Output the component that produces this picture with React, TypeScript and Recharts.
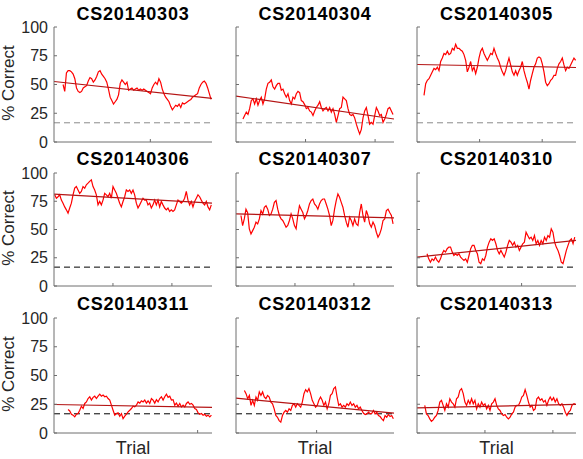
import React from 'react';
import { LineChart, Line, XAxis, YAxis, ReferenceLine } from 'recharts';

// Session names, one panel per session (row-major order)
const sessions = [
  'CS20140303', 'CS20140304', 'CS20140305',
  'CS20140306', 'CS20140307', 'CS20140310',
  'CS20140311', 'CS20140312', 'CS20140313',
];

// Total trials in each session (x-axis extent)
const trialCounts = [820, 1136, 1270, 1340, 1340, 760, 550, 980, 1170];
// Trial at which the running accuracy starts / ends
const firstTrial = [47, 50, 56, 6, 42, 48, 49, 52, 57];
const lastTrial = [815, 1129, 1267, 1334, 1332, 754, 548, 976, 1165];

// Linear fit of accuracy: value at trial 0 and at the last trial
const trendStart = [52.6, 39.9, 67.4, 81.3, 63.8, 25.6, 24.8, 30.3, 21.9];
const trendEnd = [38, 20, 64.8, 73.3, 60.3, 40.3, 22.2, 17.2, 24.9];

// Chance level for a six-choice task (% correct)
const chanceLevel = 16.7;

const yTicks = [0, 25, 50, 75, 100];
const xTicks = [500, 1000];

// Running % correct, evenly spaced between firstTrial and lastTrial
const acc0303 = [50,44,60,62,62,61,59,55,47,44,43,44,47,48,49,53,56,55,52,54,57,61,62,59,57,55,52,46,39,36,33,35,37,41,51,54,52,50,52,45,46,47,45,46,47,45,46,45,46,45,44,43,42,47,50,52,50,55,52,46,42,39,37,35,31,28,30,32,31,33,30,34,33,34,35,36,37,39,40,41,42,47,50,52,53,51,47,42,37];
const acc0304 = [20,23,26,24,29,36,37.5,33,37.5,32,36,39,33,37.5,46,51,52,54,48,46,49,51,51,45,46,42,39,42,36,33,39,37.5,42,44,43,36,35,32.5,29,30,27,26,23,27,30,32,35,30,27,29,30,27,30,26,29,24,17,23,29,30,39,37.5,36,29,24,23,24,21,15.5,11,7,11,21,27,30,23,15.5,17,15.5,23,30,27,23,24,17,20,24,29,30,27,24];
const acc0305 = [40.5,50.7,53.7,55,58,61,64,63,65,62,70,73,77,76,79,76,77,81.5,80,85,81.5,81.5,80,79,76,71,61,65,70,62,65,59.5,65,73,79,81.5,77,74,71,74,77,76,81.5,77,73,70,65,61,58,62,68,73,67,61,58,62,58,62,65,70,62,56.6,52,46,53.7,59.5,65,68,73,74,73,68,61,52,49,50.7,53.7,55,58,58,64,68,70,73,67,62,65,64,67,70,73,71];
const acc0306 = [80.7,77.7,79,80.7,76,73.3,70,67.4,64.4,69,73.3,80.7,86.6,88,85,82,83.7,88,86.6,89.6,91,92.6,94,88,85,80.7,71.8,74.8,71.8,76,82,80.7,79,82,77.7,88,85,82,77.7,73.3,70,74.8,79,85,83.7,85,82,85,80.7,73.3,69,71.8,74.8,77.7,76,76,71.8,73.3,69,71.8,76,71.8,76,70,74.8,71.8,69,67.4,69,66,67.4,66,67.4,71.8,76,74.8,73.3,74.8,77.7,83.7,76,71.8,74.8,70,74.8,77.7,80.7,79,76,73.3,71.8,74.8,70,67.4,71.8];
const acc0307 = [62.4,53.5,59.4,68,65,50.6,46,49,52,56.5,55,59.4,66.8,63.8,69.7,71,68,62.4,63.8,68,74,75.6,68,62.4,59.4,58,55,52,53.5,58,63.8,59.4,53.5,50.6,62.4,71,68,65,59.4,62.4,66.8,72.6,75.6,77,72.6,71,68,72.6,75.6,77,77,72.6,68,62.4,53.5,58,68,75.6,81.5,78.5,74,69.7,62.4,56.5,52,60.9,58,53.5,59.4,55,53.5,65,72.6,62.4,56.5,66.8,62.4,55,52,56.5,53.5,47.6,43.2,46,50.6,58,59.4,66.8,68,65,62.4,55];
const acc0310 = [28.5,24,21,24,22.6,25.6,22.6,21,24,28.5,31.5,30,33,34.4,34.4,30,27,28.5,27,28.5,25.6,24,22.6,24,21,27,33,36,36,31.5,28.5,21,19.7,24,22.6,27,34.4,38.8,41.8,40.3,41.8,37.4,31.5,28.5,31.5,28.5,25.6,30,36,40.3,38.8,36,38.8,34.4,36,31.5,34.4,37.4,38.8,47.6,44.7,41.8,43.2,40.3,44.7,37.4,40.3,36,40.3,37.4,43.2,40.3,44.7,43.2,50.6,47.6,38.8,34.4,31.5,27,21,19.7,25.6,31.5,36,40.3,41.8,37.4,43.2];
const acc0311 = [20.4,19.2,16.3,15.5,14,16.3,16.9,19.8,23.3,21.3,25.7,27,30,31.5,28.6,31,32,30,32,33.8,32,33,31.5,32,30,28.6,24.2,19.8,15.5,16.9,17.5,14.6,16.9,12.5,14.6,16.3,18.4,19.8,21.3,23.3,22.7,24.2,27,26,28,27,28.6,26,28,25.7,30,28.6,26,29,27,30,31.5,28.6,31.5,33.8,31,32,28.6,29,24.2,26,23.3,25.7,22.7,24.2,22.7,25.7,27,25,25.7,24.2,21.3,20.4,17.5,16.3,16.9,15.5,16.3,14.6,15.5,14,15.5];
const acc0312 = [37,34.2,29.8,32.7,24,28.4,24,31.3,28.4,35.7,32.7,35.7,31.3,29.8,32.7,31.3,26.9,25.4,21,15.2,13.7,10.8,9.4,15.2,18.1,19.6,18.1,21,19.6,24,25.4,22.5,25.4,24,22.5,26.9,34.2,37.7,35.7,38.6,34.2,28.4,25.4,22.5,24,28.4,31.3,28.4,24,26.9,21,25.4,32.7,34.2,38.6,40,31.3,24,25.4,22.5,24,22.5,25.4,24,26.9,24,25.4,22.5,24,21,22.5,19.6,17.2,16.1,16.6,18.1,16.6,17.2,19.6,16.6,18.1,15.2,14.3,12.3,10.8,15.2,13.7,16.1,14.3,15.2,12.3];
const acc0313 = [24,16.6,15.2,12.3,10.2,11.4,13.7,15.2,19.6,26.9,28.4,24,19.6,25.4,22.5,29.8,26.9,25.4,22.5,29.8,31.3,37,38.6,34.2,26.9,24,28.4,25.4,29.8,25.4,28.4,21,25.4,22.5,26.9,24,25.4,21,24,19.6,25.4,26.9,29.8,24,21,19.6,16.6,15.2,16.1,13.7,12.3,13.7,16.6,18.1,22.5,24,24,26.9,31.3,32.7,37.7,32.7,26.9,22.5,24,19.6,21,29.8,31.3,28.4,29.8,26.9,28.4,24,28.4,31.3,28.4,30.7,26.9,29.8,25.4,24,25.4,22.5,18.1,15.2,18.1,19.6,24,25.4,25.4];

const accuracy = [acc0303, acc0304, acc0305, acc0306, acc0307, acc0310, acc0311, acc0312, acc0313];

// Layout of the 3x3 grid of plot areas (pixels)
const colLeft = [54, 236, 417];
const colWidth = [158, 158, 159];
const rowTop = [27, 173, 318];
const rowHeight = [115, 113, 115];
const titleBaseline = [20, 165, 310];

const FONT = '"Liberation Sans", Arial, Helvetica, sans-serif';
const AXIS_GRAY = '#6e6e6e';
const TEXT_DARK = '#262626';
const Y_AXIS_W = 50;
const PAD = 12;

function toSeries(values: number[], start: number, end: number) {
  const step = (end - start) / (values.length - 1);
  return values.map((v, i) => ({ t: start + i * step, v }));
}

function Panel({ index }: { index: number }) {
  const row = Math.floor(index / 3);
  const col = index % 3;
  const n = trialCounts[index];
  const data = toSeries(accuracy[index], firstTrial[index], lastTrial[index]);
  const w = colWidth[col];
  const h = rowHeight[row];
  const chanceColor = row === 0 ? '#8a8a8a' : '#000000';

  return (
    <div
      style={{
        position: 'absolute',
        left: colLeft[col] - Y_AXIS_W,
        top: rowTop[row] - PAD,
      }}
    >
      <LineChart
        width={w + Y_AXIS_W + PAD}
        height={h + PAD * 2}
        data={data}
        margin={{ top: PAD, right: PAD, bottom: 0, left: 0 }}
      >
        <XAxis
          dataKey="t"
          type="number"
          domain={[0, n]}
          ticks={xTicks.filter((t) => t < n)}
          tickFormatter={() => ''}
          height={PAD}
          tickSize={-3}
          stroke={AXIS_GRAY}
          axisLine={{ stroke: AXIS_GRAY }}
          tickLine={{ stroke: AXIS_GRAY }}
          allowDataOverflow
        />
        <YAxis
          type="number"
          domain={[0, 100]}
          ticks={yTicks}
          width={Y_AXIS_W}
          tickSize={-3}
          tickMargin={9}
          tickFormatter={(v: number) => (col === 0 ? String(v) : '')}
          tick={{ fill: TEXT_DARK, fontSize: 16, fontFamily: FONT }}
          stroke={AXIS_GRAY}
          axisLine={{ stroke: AXIS_GRAY }}
          tickLine={{ stroke: AXIS_GRAY }}
          interval={0}
          allowDataOverflow
        />
        <ReferenceLine
          y={chanceLevel}
          stroke={chanceColor}
          strokeDasharray="6 4"
          strokeWidth={1}
        />
        <Line
          type="linear"
          dataKey="v"
          stroke="#ff0000"
          strokeWidth={1.2}
          dot={false}
          isAnimationActive={false}
        />
        <ReferenceLine
          segment={[
            { x: 0, y: trendStart[index] },
            { x: n, y: trendEnd[index] },
          ]}
          stroke="#b41414"
          strokeWidth={1.2}
          ifOverflow="visible"
        />
      </LineChart>
    </div>
  );
}

export default function App() {
  return (
    <div
      style={{
        position: 'absolute',
        left: 0,
        top: 0,
        width: 583,
        height: 459,
        background: '#ffffff',
        overflow: 'hidden',
      }}
    >
      {sessions.map((_, i) => (
        <Panel key={i} index={i} />
      ))}
      <svg
        width={583}
        height={459}
        style={{ position: 'absolute', left: 0, top: 0, pointerEvents: 'none' }}
      >
        {sessions.map((name, i) => {
          const row = Math.floor(i / 3);
          const col = i % 3;
          return (
            <text
              key={name}
              x={colLeft[col] + colWidth[col] / 2}
              y={titleBaseline[row]}
              textAnchor="middle"
              fontFamily={FONT}
              fontWeight="bold"
              fontSize={18}
              letterSpacing={0.8}
              fill="#000000"
            >
              {name}
            </text>
          );
        })}
        {rowTop.map((top, r) => {
          const cy = top + rowHeight[r] / 2 - 1.5;
          return (
            <text
              key={'yl' + r}
              x={14}
              y={cy}
              transform={`rotate(-90 14 ${cy})`}
              textAnchor="middle"
              fontFamily={FONT}
              fontSize={17}
              fill={TEXT_DARK}
            >
              % Correct
            </text>
          );
        })}
        {colLeft.map((left, c) => (
          <text
            key={'xl' + c}
            x={left + colWidth[c] / 2}
            y={454}
            textAnchor="middle"
            fontFamily={FONT}
            fontSize={18}
            fill={TEXT_DARK}
          >
            Trial
          </text>
        ))}
      </svg>
    </div>
  );
}
